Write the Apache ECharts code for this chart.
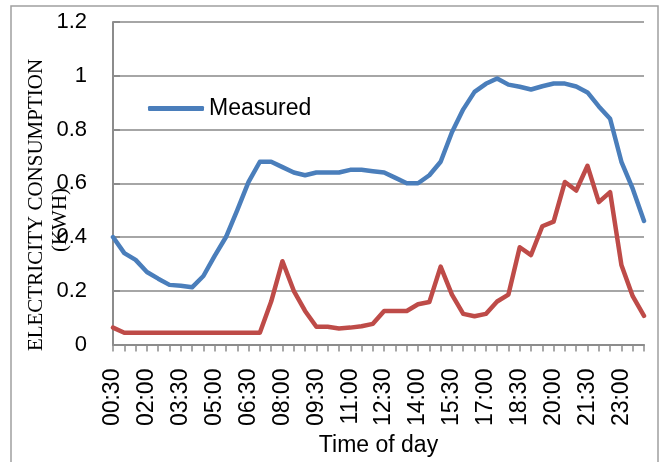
<!DOCTYPE html>
<html>
<head>
<meta charset="utf-8">
<script src="https://cdn.jsdelivr.net/npm/echarts@6/dist/echarts.min.js"></script>
<style>
  html, body { margin: 0; padding: 0; background: #fff; }
  #chart { width: 662px; height: 462px; }
</style>
</head>
<body>
<div id="chart"></div>
<script>
// Half-hourly time slots, 00:30 through 24:00
const times = [
  '00:30','01:00','01:30','02:00','02:30','03:00','03:30','04:00',
  '04:30','05:00','05:30','06:00','06:30','07:00','07:30','08:00',
  '08:30','09:00','09:30','10:00','10:30','11:00','11:30','12:00',
  '12:30','13:00','13:30','14:00','14:30','15:00','15:30','16:00',
  '16:30','17:00','17:30','18:00','18:30','19:00','19:30','20:00',
  '20:30','21:00','21:30','22:00','22:30','23:00','23:30','24:00'
];

// Measured consumption (kWh)
const measured = [
  0.40, 0.34, 0.315, 0.27, 0.245, 0.222, 0.219, 0.213,
  0.255, 0.33, 0.40, 0.50, 0.605, 0.68, 0.68, 0.66,
  0.64, 0.63, 0.64, 0.64, 0.64, 0.65, 0.65, 0.645,
  0.64, 0.62, 0.60, 0.60, 0.63, 0.68, 0.79, 0.875,
  0.94, 0.97, 0.99, 0.967, 0.959, 0.949, 0.961, 0.971,
  0.971, 0.96, 0.938, 0.886, 0.84, 0.68, 0.58, 0.46
];

// Second consumption profile (kWh)
const profile = [
  0.063, 0.044, 0.044, 0.044, 0.044, 0.044, 0.044, 0.044,
  0.044, 0.044, 0.044, 0.044, 0.044, 0.044, 0.16, 0.31,
  0.20, 0.125, 0.066, 0.066, 0.06, 0.063, 0.068, 0.077,
  0.125, 0.125, 0.125, 0.15, 0.158, 0.29, 0.186, 0.114,
  0.105, 0.114, 0.16, 0.186, 0.362, 0.333, 0.44, 0.457,
  0.605, 0.573, 0.665, 0.53, 0.567, 0.296, 0.18, 0.107
];

const yTicks = { min: 0, max: 1.2, step: 0.2 };

const chart = echarts.init(document.getElementById('chart'), null, { renderer: 'canvas' });

const sans = 'Liberation Sans';

chart.setOption({
  animation: false,
  backgroundColor: '#ffffff',
  grid: { left: 113, right: 18, top: 22, bottom: 115, containLabel: false },
  legend: {
    data: ['Measured'],
    left: 143,
    top: 92,
    icon: 'roundRect',
    itemWidth: 56,
    itemHeight: 5,
    itemGap: 6,
    textStyle: { fontFamily: sans, fontSize: 23, color: '#000' }
  },
  xAxis: {
    type: 'category',
    data: times,
    boundaryGap: false,
    name: 'Time of day',
    nameLocation: 'middle',
    nameGap: 83,
    nameTextStyle: { fontFamily: sans, fontSize: 23, color: '#000' },
    axisLine: { lineStyle: { color: '#8c8c8c', width: 2 } },
    axisTick: { show: true, interval: 0, length: 7, lineStyle: { color: '#8c8c8c', width: 1.5 } },
    axisLabel: {
      interval: 2,
      rotate: 90,
      margin: 24,
      fontFamily: sans,
      fontSize: 23,
      color: '#000'
    },
    splitLine: { show: false }
  },
  yAxis: {
    type: 'value',
    min: yTicks.min,
    max: yTicks.max,
    interval: yTicks.step,
    axisLine: { show: true, lineStyle: { color: '#8c8c8c', width: 2 } },
    axisTick: { show: true, inside: true, length: 7, lineStyle: { color: '#8c8c8c', width: 2 } },
    axisLabel: {
      margin: 26,
      fontFamily: sans,
      fontSize: 22,
      color: '#000',
      formatter: v => String(Math.round(v * 10) / 10)
    },
    splitLine: { show: true, lineStyle: { color: '#a6a6a6', width: 2 } }
  },
  series: [
    {
      name: 'Measured',
      type: 'line',
      data: measured,
      symbol: 'none',
      lineStyle: { color: '#4a7ebb', width: 4.5, cap: 'round', join: 'round' },
      itemStyle: { color: '#4a7ebb' },
      z: 3
    },
    {
      name: 'Profile',
      type: 'line',
      data: profile,
      symbol: 'none',
      lineStyle: { color: '#be4b48', width: 4.5, cap: 'round', join: 'round' },
      itemStyle: { color: '#be4b48' },
      z: 2
    }
  ],
  graphic: [
    {
      type: 'rect',
      shape: { x: 11, y: 6, width: 647, height: 470 },
      style: { fill: 'none', stroke: '#a0a0a0', lineWidth: 1.5 },
      silent: true,
      z: -1
    },
    {
      type: 'text',
      x: 36,
      y: 205,
      rotation: Math.PI / 2,
      style: {
        text: 'ELECTRICITY CONSUMPTION',
        font: '21px "Liberation Serif"',
        fill: '#000',
        textAlign: 'center',
        textVerticalAlign: 'middle'
      }
    },
    {
      type: 'text',
      x: 60,
      y: 220,
      rotation: Math.PI / 2,
      style: {
        text: '(KWH)',
        font: '21px "Liberation Serif"',
        fill: '#000',
        textAlign: 'center',
        textVerticalAlign: 'middle'
      }
    }
  ]
});
</script>
</body>
</html>
